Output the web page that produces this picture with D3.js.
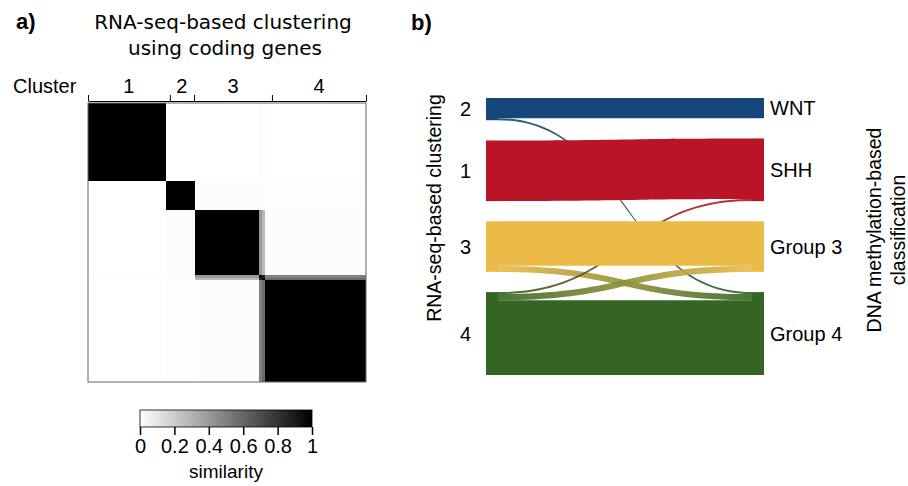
<!DOCTYPE html>
<html>
<head>
<meta charset="utf-8">
<script src="https://cdn.jsdelivr.net/npm/d3@7"></script>
<style>
  body { margin: 0; background: #fff; }
  svg { display: block; }
  text { font-family: "Liberation Sans", Arial, sans-serif; fill: #000; }
</style>
</head>
<body>
<svg id="fig" width="908" height="486"></svg>
<script>
// ---- panel a: similarity heatmap ----
const heatClusters = ["1", "2", "3", "4"];
const heatSizes = [30, 11, 25, 41];
// mean similarity between clusters (rows/cols in heatClusters order)
const blockSim = [
  [1.00, 0.00, 0.00, 0.00],
  [0.00, 1.00, 0.012, 0.006],
  [0.00, 0.012, 1.00, 0.01],
  [0.00, 0.006, 0.01, 1.00]
];
// two samples at the start of cluster 4 that sit between 3 and 4
const borderSim = [
  [0.01, 0.01, 0.40, 0.50],
  [0.01, 0.01, 0.28, 0.58]
];
const borderPair = 0.85;
// cluster bar ticks, in sample units
const clusterTicks = [0, 31.5, 40.8, 70.8, 107];
const colorbarTicks = [0, 0.2, 0.4, 0.6, 0.8, 1];

// ---- panel b: alluvial ----
const leftOrder = ["2", "1", "3", "4"];
const rightOrder = ["WNT", "SHH", "Group 3", "Group 4"];
const leftColors = ["#15477a", "#b91526", "#ecbb47", "#346524"];
const rightColors = ["#15477a", "#b91526", "#ecbb47", "#346524"];
const flows = [
  {from: "2", to: "WNT", n: 10},
  {from: "2", to: "Group 4", n: 1},
  {from: "1", to: "SHH", n: 30},
  {from: "3", to: "Group 3", n: 22},
  {from: "3", to: "Group 4", n: 3},
  {from: "4", to: "SHH", n: 1},
  {from: "4", to: "Group 3", n: 3},
  {from: "4", to: "Group 4", n: 37}
];

const svg = d3.select("#fig");

// panel letters
svg.append("text").attr("x", 16).attr("y", 29).attr("font-size", 22).attr("font-weight", "bold").text("a)");
svg.append("text").attr("x", 411).attr("y", 30).attr("font-size", 22).attr("font-weight", "bold").text("b)");

// title
const title = svg.append("text").attr("text-anchor", "middle").attr("font-size", 20)
  .style("font-family", "'DejaVu Sans', sans-serif");
title.append("tspan").attr("x", 223).attr("y", 29).text("RNA-seq-based clustering");
title.append("tspan").attr("x", 225).attr("y", 55).text("using coding genes");

// samples
let samples = [];
heatSizes.forEach(function(s, c) {
  for (let i = 0; i < s; i++) {
    samples.push({cluster: c, border: (c === 3 && i < borderSim.length) ? i : -1});
  }
});
const n = samples.length;

function sim(a, b) {
  if (a === b) return 1;
  if (a.border >= 0 && b.border >= 0) return borderPair;
  if (a.border >= 0) return borderSim[a.border][b.cluster];
  if (b.border >= 0) return borderSim[b.border][a.cluster];
  return blockSim[a.cluster][b.cluster];
}

const hx = d3.scaleLinear().domain([0, n]).range([88, 366]);
const hy = d3.scaleLinear().domain([0, n]).range([103, 382]);
const grey = d3.scaleLinear().domain([0, 1]).range(["#ffffff", "#000000"]).interpolate(d3.interpolateRgb);

// run-length the rows so neighbouring cells of the same value become one rect
let cells = [];
samples.forEach(function(a, i) {
  let start = 0;
  let v = sim(a, samples[0]);
  for (let j = 1; j <= n; j++) {
    let w = j < n ? sim(a, samples[j]) : null;
    if (w !== v) {
      cells.push({row: i, c0: start, c1: j, v: v});
      start = j; v = w;
    }
  }
});

const heat = svg.append("g").attr("class", "heat");
heat.selectAll("rect").data(cells).enter().append("rect")
  .attr("x", d => hx(d.c0))
  .attr("y", d => hy(d.row))
  .attr("width", d => hx(d.c1) - hx(d.c0))
  .attr("height", d => hy(d.row + 1) - hy(d.row) + 0.4)
  .attr("fill", d => grey(d.v))
  .attr("shape-rendering", "crispEdges");

heat.append("rect")
  .attr("x", hx(0)).attr("y", hy(0))
  .attr("width", hx(n) - hx(0)).attr("height", hy(n) - hy(0))
  .attr("fill", "none").attr("stroke", "#666").attr("stroke-width", 1);

// cluster bar above heatmap
const cax = d3.axisTop(hx).tickValues(clusterTicks.map(t => t * n / 107)).tickFormat("").tickSize(6).tickSizeOuter(0);
const cg = svg.append("g").attr("transform", "translate(0,101)").call(cax);
cg.select(".domain").attr("stroke", "#000");
cg.selectAll(".tick line").attr("stroke", "#000");
heatClusters.forEach(function(c, i) {
  svg.append("text").attr("x", hx((clusterTicks[i] + clusterTicks[i + 1]) / 2 * n / 107))
    .attr("y", 93).attr("text-anchor", "middle").attr("font-size", 20).text(c);
});
svg.append("text").attr("x", 13).attr("y", 93).attr("font-size", 20).text("Cluster");

// colour bar
const cb = d3.scaleLinear().domain([0, 1]).range([140, 312]);
const defs = svg.append("defs");
const lg = defs.append("linearGradient").attr("id", "cbar");
colorbarTicks.forEach(function(t) {
  lg.append("stop").attr("offset", (t * 100) + "%").attr("stop-color", grey(t));
});
svg.append("rect").attr("x", cb(0)).attr("y", 410).attr("width", cb(1) - cb(0)).attr("height", 17)
  .attr("fill", "url(#cbar)").attr("stroke", "#000").attr("stroke-width", 0.8);
const cbAxis = d3.axisBottom(cb).tickValues(colorbarTicks).tickFormat(d => d === 0 || d === 1 ? d : d.toFixed(1)).tickSize(8).tickSizeOuter(0);
const cbg = svg.append("g").attr("transform", "translate(0,427)").call(cbAxis);
cbg.select(".domain").remove();
cbg.selectAll(".tick line").attr("stroke", "#000").attr("stroke-width", 1.5);
cbg.selectAll(".tick text").attr("font-size", 20).attr("y", 12)
  .style("font-family", "'Liberation Sans', Arial, sans-serif").attr("fill", "#000");
svg.append("text").attr("x", cb(0.5)).attr("y", 478).attr("text-anchor", "middle").attr("font-size", 19).text("similarity");

// ---- alluvial layout ----
const gap = 10;
function stack(order, side) {
  let y = 0;
  return order.map(function(k, i) {
    let size = d3.sum(flows.filter(f => f[side] === k), f => f.n);
    let s = {key: k, i: i, y0: y, y1: y + size};
    y += size + gap;
    return s;
  });
}
const leftNodes = stack(leftOrder, "from");
const rightNodes = stack(rightOrder, "to");
const total = leftNodes[leftNodes.length - 1].y1;
const sy = d3.scaleLinear().domain([0, total]).range([98, 375]);
const sx = d3.scaleLinear().domain([0, 1]).range([486, 764]);
const nodeW = 12;

// slot each flow in its nodes: sorted by the other side's order
leftNodes.forEach(function(nd) {
  let y = nd.y0;
  flows.filter(f => f.from === nd.key)
    .sort((a, b) => rightOrder.indexOf(a.to) - rightOrder.indexOf(b.to))
    .forEach(function(f) { f.ly0 = y; y += f.n; f.ly1 = y; });
});
rightNodes.forEach(function(nd) {
  let y = nd.y0;
  flows.filter(f => f.to === nd.key)
    .sort((a, b) => leftOrder.indexOf(a.from) - leftOrder.indexOf(b.from))
    .forEach(function(f) { f.ry0 = y; y += f.n; f.ry1 = y; });
});

const x0 = sx(0) + nodeW, x1 = sx(1) - nodeW, xm = (x0 + x1) / 2;
function band(f) {
  let a0 = sy(f.ly0), a1 = sy(f.ly1), b0 = sy(f.ry0), b1 = sy(f.ry1);
  return `M${x0},${a0}C${xm},${a0} ${xm},${b0} ${x1},${b0}L${x1},${b1}C${xm},${b1} ${xm},${a1} ${x0},${a1}Z`;
}

flows.forEach(function(f, i) {
  let g = defs.append("linearGradient").attr("id", "fl" + i)
    .attr("gradientUnits", "userSpaceOnUse").attr("x1", x0).attr("x2", x1).attr("y1", 0).attr("y2", 0);
  g.append("stop").attr("offset", "0%").attr("stop-color", leftColors[leftOrder.indexOf(f.from)]);
  g.append("stop").attr("offset", "100%").attr("stop-color", rightColors[rightOrder.indexOf(f.to)]);
  f.id = i;
  f.cross = leftOrder.indexOf(f.from) !== rightOrder.indexOf(f.to);
});

// cross flows behind, the straight bands on top
const fg = svg.append("g").attr("class", "flows");
fg.selectAll("path").data(flows.slice().sort((a, b) => b.cross - a.cross)).enter().append("path")
  .attr("d", band)
  .attr("fill", d => `url(#fl${d.id})`)
  .attr("fill-opacity", d => d.cross ? 0.9 : 1);

svg.append("g").selectAll("rect").data(leftNodes).enter().append("rect")
  .attr("x", sx(0)).attr("width", nodeW)
  .attr("y", d => sy(d.y0)).attr("height", d => sy(d.y1) - sy(d.y0))
  .attr("fill", d => leftColors[d.i]);
svg.append("g").selectAll("rect").data(rightNodes).enter().append("rect")
  .attr("x", sx(1) - nodeW).attr("width", nodeW)
  .attr("y", d => sy(d.y0)).attr("height", d => sy(d.y1) - sy(d.y0))
  .attr("fill", d => rightColors[d.i]);

svg.append("g").selectAll("text").data(leftNodes).enter().append("text")
  .attr("x", 471).attr("y", d => sy((d.y0 + d.y1) / 2)).attr("dy", "0.36em")
  .attr("text-anchor", "end").attr("font-size", 20).text(d => d.key);
svg.append("g").selectAll("text").data(rightNodes).enter().append("text")
  .attr("x", 770).attr("y", d => sy((d.y0 + d.y1) / 2)).attr("dy", "0.36em")
  .attr("font-size", 20).text(d => d.key);

svg.append("text").attr("transform", "translate(441,208) rotate(-90)")
  .attr("text-anchor", "middle").attr("font-size", 19.5).text("RNA-seq-based clustering");
const rl = svg.append("text").attr("transform", "translate(0,230) rotate(-90)")
  .attr("text-anchor", "middle").attr("font-size", 19.5);
rl.append("tspan").attr("x", 0).attr("y", 881).text("DNA methylation-based");
rl.append("tspan").attr("x", 0).attr("y", 905).text("classification");
</script>
</body>
</html>
